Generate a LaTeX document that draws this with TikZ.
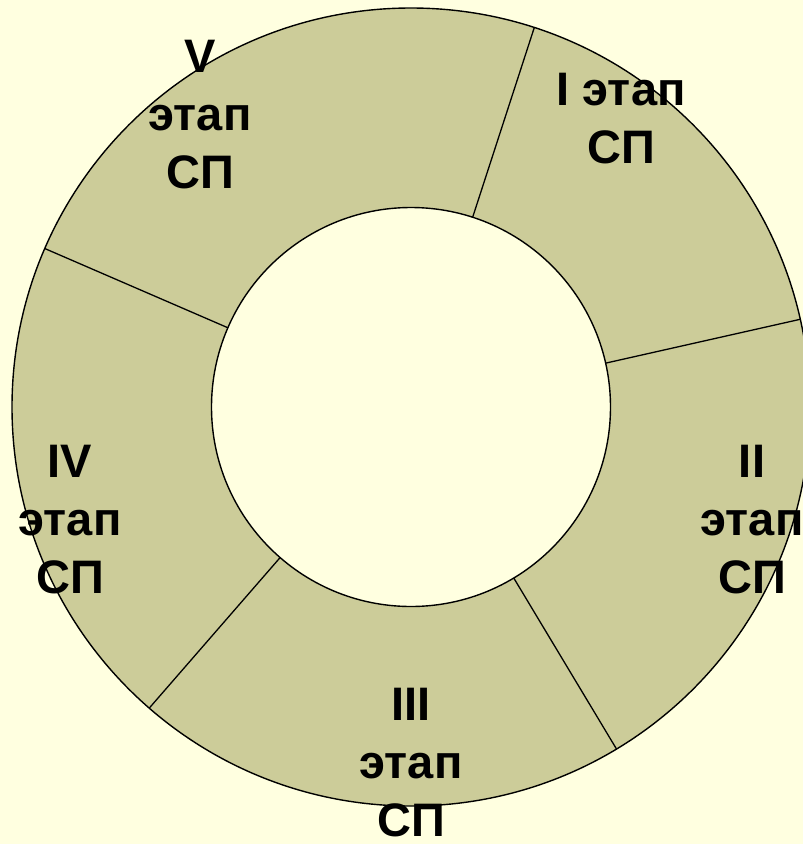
\documentclass[tikz,border=0pt]{standalone}
\usepackage{fontspec}
\setmainfont{Liberation Sans}
\definecolor{bgcol}{RGB}{255,255,224}
\definecolor{ringcol}{RGB}{204,204,153}
\tikzset{
  stagelabel/.style={anchor=north, inner sep=0pt, align=center, text=black,
    font=\fontsize{47}{58}\selectfont\bfseries},
  divider/.style={draw=black, line width=1.3pt},
  ringline/.style={draw=black, line width=1.4pt}
}
\begin{document}
\begin{tikzpicture}[x=1pt,y=-1pt]
  \fill[bgcol] (0,0) rectangle (803,844);
  \useasboundingbox (0,0) rectangle (803,844);
  \clip (0,0) rectangle (803,844);
  \coordinate (c) at (411,407);
  % ring
  \fill[ringcol, ringline] (c) circle[radius=399pt];
  \fill[bgcol, ringline] (c) circle[radius=199.5pt];
  % divider end points
  \foreach \a/\n in {72/1, 12.7/2, -59/3, -131/4, 156.6/5}{
    \path (c) ++(\a:399pt) coordinate (o\n);
    \path (c) ++(\a:199.5pt) coordinate (i\n);
  }
  \foreach \n in {1,...,5}{
    \draw[divider] (o\n) -- (i\n);
  }
  % labels
  \node[stagelabel] (s1) at (621,73) {I этап\\СП};
  \node[stagelabel] (s2) at (752,445) {II\\этап\\СП};
  \node[stagelabel] (s3) at (411,688) {III\\этап\\СП};
  \node[stagelabel] (s4) at (70,445) {IV\\этап\\СП};
  \node[stagelabel] (s5) at (200,40) {V\\этап\\СП};
\end{tikzpicture}
\end{document}
